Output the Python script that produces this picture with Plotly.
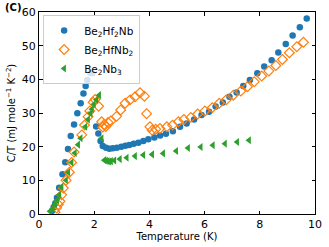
import plotly.graph_objects as go

# Be2Hf2Nb
t_hf2nb = [0.47, 0.53, 0.59, 0.65, 0.73, 0.85, 0.95, 1.05, 1.15, 1.27, 1.39, 1.51, 1.61, 1.69, 1.75,
           1.86, 1.93, 2.07, 2.15, 2.23, 2.31, 2.43, 2.55, 2.67, 2.82, 2.98, 3.13, 3.27, 3.43, 3.60,
           3.78, 3.96, 4.18, 4.39, 4.60, 4.85, 5.11, 5.35, 5.62, 5.89, 6.16, 6.40, 6.66, 6.90, 7.16,
           7.40, 7.64, 7.91, 8.16, 8.43, 8.67, 8.94, 9.19, 9.45, 9.70]
c_hf2nb = [0.9, 2.0, 3.2, 4.8, 7.8, 11.8, 15.4, 19.3, 23.2, 26.6, 29.9, 32.9, 35.8, 38.0, 39.8,
           41.9, 41.8, 26.0, 23.9, 21.7, 20.2, 19.7, 19.4, 19.5, 19.7, 20.0, 20.3, 20.5, 20.9, 21.2,
           21.7, 22.2, 22.7, 23.3, 23.8, 24.6, 25.9, 26.9, 28.1, 29.4, 30.4, 31.9, 33.1, 34.8, 36.1,
           38.0, 39.8, 41.8, 43.8, 45.7, 48.0, 50.5, 53.0, 55.5, 58.1]

# Be2HfNb2
t_hfnb2 = [0.58, 0.64, 0.70, 0.76, 0.82, 0.88, 0.98, 1.10, 1.18, 1.27, 1.55, 1.65, 1.78, 1.84, 1.96,
           2.03, 2.16, 2.27, 2.31, 2.36, 2.42, 2.50, 2.60, 2.81, 2.96, 3.12, 3.30, 3.48, 3.66, 3.82,
           3.90, 4.02, 4.10, 4.23, 4.38, 4.63, 4.84, 5.05, 5.25, 5.50, 5.75, 6.01, 6.28, 6.53, 6.78,
           7.04, 7.31, 7.55, 7.80, 8.07, 8.33, 8.58, 8.82, 9.07, 9.34, 9.58]
c_hfnb2 = [0.5, 1.8, 2.8, 3.8, 5.7, 7.7, 10.0, 12.4, 15.3, 18.4, 23.5, 26.4, 28.9, 30.6, 33.2,
           34.0, 32.0, 27.4, 25.8, 26.6, 26.0, 27.2, 27.6, 29.0, 30.9, 32.9, 33.9, 34.8, 36.0, 35.0,
           29.8, 25.9, 24.9, 25.2, 25.4, 25.9, 26.4, 27.4, 28.1, 28.7, 29.7, 30.6, 31.6, 32.9, 33.9,
           35.3, 36.5, 37.8, 39.3, 41.0, 42.5, 44.1, 45.9, 47.9, 49.7, 51.0]

# Be2Nb3
t_nb3 = [0.40, 0.50, 0.58, 0.66, 0.74, 0.82, 0.98, 1.06, 1.18, 1.30, 1.42, 1.51, 1.68, 1.78, 1.87,
         1.92, 1.99, 2.08, 2.18, 2.27, 2.37, 2.43, 2.49, 2.55, 2.61, 2.73, 2.93, 3.18, 3.48, 3.78,
         4.10, 4.50, 4.97, 5.40, 5.86, 6.30, 6.74, 7.18, 7.61]
c_nb3 = [0.8, 1.5, 2.8, 4.1, 5.7, 8.0, 10.0, 12.4, 15.3, 18.1, 20.6, 22.5, 25.9, 28.1, 29.9,
         31.1, 32.6, 33.9, 35.3, 22.5, 16.0, 15.8, 15.7, 15.6, 15.7, 15.9, 16.3, 16.7, 17.2, 17.5,
         17.7, 18.0, 18.7, 19.6, 19.9, 20.4, 20.9, 21.4, 21.9]

series_names = ["Be<sub>2</sub>Hf<sub>2</sub>Nb", "Be<sub>2</sub>HfNb<sub>2</sub>",
                "Be<sub>2</sub>Nb<sub>3</sub>"]
x_ticks = [0, 2, 4, 6, 8, 10]
y_ticks = [0, 10, 20, 30, 40, 50, 60]

FONT = "DejaVu Sans"

fig = go.Figure()
fig.add_trace(go.Scatter(x=t_hf2nb, y=c_hf2nb, mode="markers", name=series_names[0],
                         marker=dict(symbol="circle", size=6.5, color="#1f77b4")))
fig.add_trace(go.Scatter(x=t_hfnb2, y=c_hfnb2, mode="markers", name=series_names[1],
                         marker=dict(symbol="diamond-open", size=7.5, color="#ff7f0e",
                                     line=dict(width=1.2, color="#ff7f0e"))))
fig.add_trace(go.Scatter(x=t_nb3, y=c_nb3, mode="markers", name=series_names[2],
                         marker=dict(symbol="triangle-left", size=7, color="#2ca02c")))

axis_common = dict(showline=True, linecolor="black", linewidth=1, mirror="ticks",
                   ticks="inside", ticklen=3.5, tickwidth=1, tickcolor="black",
                   showgrid=False, zeroline=False, automargin=False,
                   tickfont=dict(family=FONT, size=11, color="black"))

fig.update_xaxes(range=[0, 10], tickvals=x_ticks, ticktext=[str(v) for v in x_ticks],
                 title=dict(text="Temperature (K)", font=dict(family=FONT, size=10, color="black"),
                            standoff=0),
                 **axis_common)
fig.update_yaxes(range=[0, 60], tickvals=y_ticks, ticktext=[str(v) for v in y_ticks],
                 title=dict(text="C/T (mJ mole<sup>−1</sup> K<sup>−2</sup>)",
                            font=dict(family=FONT, size=10, color="black"), standoff=4),
                 **axis_common)

fig.add_annotation(text="<b>(C)</b>", xref="paper", yref="paper", x=-0.13, y=1.02,
                   xanchor="left", yanchor="middle", showarrow=False,
                   font=dict(family=FONT, size=10, color="black"))

fig.update_layout(
    width=329, height=247,
    margin=dict(l=39, r=14, t=12, b=33),
    paper_bgcolor="white", plot_bgcolor="white",
    font=dict(family=FONT, size=10, color="black"),
    showlegend=True,
    legend=dict(x=0.015, y=0.985, xanchor="left", yanchor="top",
                bordercolor="#cccccc", borderwidth=1, bgcolor="rgba(255,255,255,0.8)",
                font=dict(family=FONT, size=10.5, color="black"),
                itemwidth=30, tracegroupgap=0),
)

fig.write_html("out.html", config={"displayModeBar": False},
               post_script="document.body.style.margin='0px';")
